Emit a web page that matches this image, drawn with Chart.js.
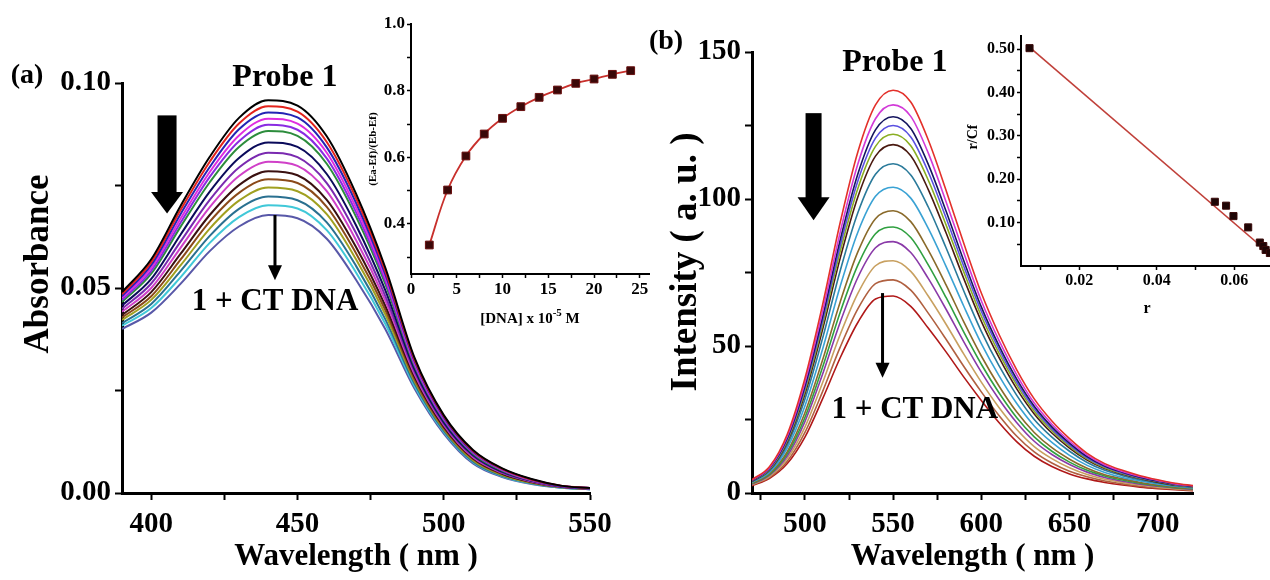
<!DOCTYPE html>
<html>
<head>
<meta charset="utf-8">
<script src="https://cdn.jsdelivr.net/npm/chart.js@4.4.0/dist/chart.umd.min.js"></script>
<style>
  html, body { margin: 0; padding: 0; background: #fff; overflow: hidden; }
  #fig { position: relative; width: 1270px; height: 580px; overflow: hidden; background: #fff; }
  canvas { position: absolute; }
</style>
</head>
<body>
<div id="fig">
  <canvas id="absMain" width="640" height="580" style="left:0;top:0"></canvas>
  <canvas id="flMain" width="635" height="580" style="left:635px;top:0"></canvas>
  <canvas id="absInset" width="330" height="330" style="left:330px;top:0"></canvas>
  <canvas id="flInset" width="340" height="322" style="left:940px;top:0"></canvas>
</div>
<script>
// ---------- panel (a): absorption titration ----------
var absWavelength = [390, 400, 410, 420, 430, 440, 450, 460, 470, 480, 490, 500, 510, 520, 530, 540, 550];
var absCurve1  = [0.0490, 0.0570, 0.0700, 0.0820, 0.0915, 0.0958, 0.0945, 0.0870, 0.0730, 0.0550, 0.0330, 0.0190, 0.0105, 0.0060, 0.0034, 0.0018, 0.0012];
var absCurve2  = [0.0485, 0.0563, 0.0690, 0.0808, 0.0901, 0.0943, 0.0930, 0.0856, 0.0719, 0.0542, 0.0326, 0.0188, 0.0103, 0.0059, 0.0033, 0.0018, 0.0012];
var absCurve3  = [0.0480, 0.0556, 0.0680, 0.0795, 0.0887, 0.0928, 0.0916, 0.0843, 0.0708, 0.0534, 0.0322, 0.0185, 0.0101, 0.0058, 0.0033, 0.0017, 0.0012];
var absCurve4  = [0.0476, 0.0549, 0.0669, 0.0783, 0.0872, 0.0913, 0.0901, 0.0830, 0.0696, 0.0526, 0.0318, 0.0183, 0.0100, 0.0057, 0.0032, 0.0017, 0.0012];
var absCurve5  = [0.0471, 0.0542, 0.0659, 0.0771, 0.0858, 0.0898, 0.0886, 0.0816, 0.0685, 0.0518, 0.0314, 0.0180, 0.0098, 0.0056, 0.0031, 0.0017, 0.0011];
var absCurve6  = [0.0466, 0.0535, 0.0649, 0.0758, 0.0844, 0.0883, 0.0871, 0.0803, 0.0674, 0.0510, 0.0310, 0.0178, 0.0096, 0.0054, 0.0031, 0.0017, 0.0011];
var absCurve7  = [0.0457, 0.0522, 0.0630, 0.0735, 0.0817, 0.0855, 0.0844, 0.0778, 0.0653, 0.0495, 0.0302, 0.0173, 0.0093, 0.0052, 0.0030, 0.0016, 0.0011];
var absCurve8  = [0.0449, 0.0511, 0.0613, 0.0715, 0.0794, 0.0830, 0.0819, 0.0756, 0.0634, 0.0481, 0.0296, 0.0169, 0.0090, 0.0050, 0.0029, 0.0016, 0.0011];
var absCurve9  = [0.0442, 0.0500, 0.0598, 0.0697, 0.0773, 0.0808, 0.0798, 0.0736, 0.0617, 0.0470, 0.0290, 0.0166, 0.0087, 0.0049, 0.0028, 0.0015, 0.0010];
var absCurve10 = [0.0434, 0.0490, 0.0583, 0.0678, 0.0751, 0.0785, 0.0775, 0.0715, 0.0600, 0.0457, 0.0284, 0.0162, 0.0085, 0.0047, 0.0027, 0.0015, 0.0010];
var absCurve11 = [0.0428, 0.0480, 0.0569, 0.0662, 0.0732, 0.0765, 0.0756, 0.0698, 0.0585, 0.0447, 0.0278, 0.0159, 0.0083, 0.0046, 0.0026, 0.0015, 0.0010];
var absCurve12 = [0.0422, 0.0471, 0.0555, 0.0645, 0.0713, 0.0745, 0.0736, 0.0680, 0.0570, 0.0436, 0.0273, 0.0156, 0.0080, 0.0044, 0.0025, 0.0014, 0.0010];
var absCurve13 = [0.0414, 0.0461, 0.0541, 0.0627, 0.0693, 0.0723, 0.0714, 0.0660, 0.0554, 0.0424, 0.0267, 0.0152, 0.0077, 0.0042, 0.0024, 0.0014, 0.0009];
var absCurve14 = [0.0408, 0.0451, 0.0526, 0.0610, 0.0673, 0.0702, 0.0694, 0.0641, 0.0538, 0.0413, 0.0261, 0.0149, 0.0075, 0.0041, 0.0023, 0.0013, 0.0009];
var absCurve15 = [0.0400, 0.0440, 0.0510, 0.0590, 0.0650, 0.0678, 0.0670, 0.0620, 0.0520, 0.0400, 0.0255, 0.0145, 0.0072, 0.0039, 0.0022, 0.0013, 0.0009];
var absCurves = [absCurve1, absCurve2, absCurve3, absCurve4, absCurve5, absCurve6, absCurve7, absCurve8,
                 absCurve9, absCurve10, absCurve11, absCurve12, absCurve13, absCurve14, absCurve15];
var absColors = ['#000000', '#e3231c', '#2323b4', '#e02ce0', '#8a2be2', '#2c8c3c', '#0a0a5a', '#7a2ab0',
                 '#d040c8', '#3a1010', '#8b4a1a', '#a0a020', '#2a7090', '#40c8d8', '#5858a8'];
var absXTicks = [400, 425, 450, 475, 500, 525, 550];
var absXLabels = [400, 450, 500, 550];
var absYTicks = [0, 0.025, 0.05, 0.075, 0.1];
var absYLabels = [0, 0.05, 0.1];

// inset (a): binding isotherm
var dnaConc = [2, 4, 6, 8, 10, 12, 14, 16, 18, 20, 22, 24];
var absRatio = [0.337, 0.502, 0.604, 0.670, 0.717, 0.752, 0.780, 0.802, 0.822, 0.835, 0.849, 0.860];
var insetAXTicks = [0, 2.5, 5, 7.5, 10, 12.5, 15, 17.5, 20, 22.5, 25];
var insetAXLabels = [0, 5, 10, 15, 20, 25];
var insetAYTicks = [0.3, 0.4, 0.5, 0.6, 0.7, 0.8, 0.9, 1.0];
var insetAYLabels = [0.4, 0.6, 0.8, 1.0];

// ---------- panel (b): emission titration ----------
var flWavelength = [470, 480, 490, 500, 510, 520, 530, 540, 550, 560, 570, 580, 590, 600, 610, 620, 630, 640, 650, 660, 670, 680, 690, 700, 710, 720];
var flCurve1  = [4.5, 9.0, 20.0, 39.0, 64.0, 92.0, 116.0, 132.0, 137.0, 133.0, 120.0, 103.0, 85.0, 68.0, 54.0, 42.0, 32.0, 24.5, 18.5, 13.5, 10.0, 7.7, 5.9, 4.5, 3.3, 2.5];
var flCurve2  = [4.4, 8.7, 19.3, 37.6, 61.7, 88.7, 111.9, 127.3, 132.0, 128.1, 115.5, 99.1, 81.8, 65.4, 51.9, 40.3, 30.6, 23.4, 17.6, 12.9, 9.5, 7.3, 5.6, 4.3, 3.1, 2.4];
var flCurve3  = [4.2, 8.5, 18.7, 36.4, 59.9, 86.1, 108.5, 123.5, 128.0, 124.0, 111.7, 95.9, 79.1, 63.3, 50.1, 38.8, 29.5, 22.5, 17.0, 12.4, 9.2, 7.1, 5.4, 4.1, 3.0, 2.3];
var flCurve4  = [4.2, 8.3, 18.3, 35.6, 58.5, 84.1, 106.1, 120.7, 125.0, 121.1, 109.1, 93.6, 77.2, 61.8, 48.9, 37.8, 28.7, 21.8, 16.4, 12.0, 8.9, 6.8, 5.2, 4.0, 2.9, 2.2];
var flCurve5  = [4.1, 8.1, 17.9, 34.7, 57.2, 82.2, 103.6, 117.9, 122.0, 118.1, 106.3, 91.2, 75.3, 60.2, 47.6, 36.8, 27.8, 21.2, 15.9, 11.6, 8.6, 6.6, 5.1, 3.9, 2.8, 2.1];
var flCurve6  = [4.0, 7.9, 17.4, 33.7, 55.6, 79.9, 100.7, 114.6, 118.5, 114.7, 103.1, 88.5, 73.0, 58.4, 46.1, 35.5, 26.9, 20.4, 15.3, 11.2, 8.3, 6.4, 4.9, 3.7, 2.7, 2.1];
var flCurve7  = [3.8, 7.6, 16.4, 31.9, 52.6, 75.6, 95.3, 108.4, 112.0, 108.2, 97.2, 83.4, 68.8, 55.0, 43.3, 33.3, 25.0, 19.0, 14.2, 10.4, 7.7, 5.9, 4.5, 3.4, 2.5, 1.9];
var flCurve8  = [3.6, 7.1, 15.3, 29.6, 48.9, 70.3, 88.7, 100.9, 104.0, 100.3, 89.9, 77.1, 63.6, 50.8, 39.9, 30.5, 22.8, 17.2, 12.8, 9.4, 7.0, 5.3, 4.1, 3.1, 2.3, 1.7];
var flCurve9  = [3.3, 6.7, 14.1, 27.3, 45.2, 65.0, 82.0, 93.3, 96.0, 92.3, 82.5, 70.8, 58.3, 46.6, 36.4, 27.6, 20.6, 15.4, 11.5, 8.4, 6.2, 4.8, 3.6, 2.7, 2.0, 1.5];
var flCurve10 = [3.2, 6.3, 13.4, 25.7, 42.8, 61.5, 77.5, 88.2, 90.5, 86.9, 77.5, 66.5, 54.8, 43.8, 34.1, 25.7, 19.1, 14.2, 10.5, 7.7, 5.8, 4.4, 3.3, 2.5, 1.8, 1.4];
var flCurve11 = [3.0, 6.1, 12.6, 24.3, 40.4, 58.1, 73.3, 83.4, 85.5, 81.8, 72.9, 62.5, 51.5, 41.1, 31.9, 24.0, 17.6, 13.1, 9.7, 7.1, 5.3, 4.0, 3.0, 2.3, 1.7, 1.2];
var flCurve12 = [2.8, 5.7, 11.7, 22.4, 37.5, 53.9, 67.9, 77.3, 79.0, 75.4, 66.9, 57.4, 47.3, 37.7, 29.1, 21.7, 15.8, 11.7, 8.6, 6.3, 4.7, 3.6, 2.7, 2.0, 1.5, 1.1];
var flCurve13 = [2.7, 5.3, 10.8, 20.6, 34.5, 49.6, 62.6, 71.2, 72.5, 69.0, 61.1, 52.3, 43.1, 34.4, 26.4, 19.4, 14.0, 10.2, 7.4, 5.5, 4.1, 3.1, 2.3, 1.7, 1.3, 0.9];
var flCurve14 = [2.5, 5.0, 10.0, 19.0, 32.0, 46.0, 58.0, 66.0, 67.0, 63.5, 56.0, 48.0, 39.5, 31.5, 24.0, 17.5, 12.5, 9.0, 6.5, 4.8, 3.6, 2.7, 2.0, 1.5, 1.1, 0.8];
var flCurves = [flCurve1, flCurve2, flCurve3, flCurve4, flCurve5, flCurve6, flCurve7,
                flCurve8, flCurve9, flCurve10, flCurve11, flCurve12, flCurve13, flCurve14];
var flColors = ['#e3302a', '#d23ad8', '#14145e', '#5a50e0', '#8aae22', '#4a1a10', '#2a7a9a',
                '#3aa2d4', '#8a6a2a', '#30a040', '#8a3aa8', '#c8a060', '#b06040', '#b01818'];
var flXTicks = [475, 500, 525, 550, 575, 600, 625, 650, 675, 700];
var flXLabels = [500, 550, 600, 650, 700];
var flYTicks = [0, 25, 50, 75, 100, 125, 150];
var flYLabels = [0, 50, 100, 150];

// inset (b): Scatchard plot
var scatR   = [0.0072, 0.0550, 0.0579, 0.0598, 0.0636, 0.0666, 0.0675, 0.0681, 0.0692];
var scatRCf = [0.502, 0.148, 0.139, 0.115, 0.089, 0.054, 0.046, 0.037, 0.030];
var fitR    = [0.0068, 0.0700];
var fitRCf  = [0.507, 0.022];
var insetBXTicks = [0.01, 0.02, 0.03, 0.04, 0.05, 0.06, 0.07];
var insetBXLabels = [0.02, 0.04, 0.06];
var insetBYTicks = [0.05, 0.1, 0.15, 0.2, 0.25, 0.3, 0.35, 0.4, 0.45, 0.5];
var insetBYLabels = [0.1, 0.2, 0.3, 0.4, 0.5];

// ---------- helpers ----------
var SERIF = "'Liberation Serif', 'Times New Roman', serif";
Chart.defaults.font.family = SERIF;
Chart.defaults.font.weight = 'bold';
Chart.defaults.color = '#000';
Chart.defaults.animation = false;
Chart.defaults.responsive = false;

function pts(xs, ys) {
  return xs.map(function (x, i) { return { x: x, y: ys[i] }; });
}

function axis(o) {
  return {
    type: 'linear',
    min: o.min,
    max: o.max,
    afterBuildTicks: function (s) { s.ticks = o.ticks.map(function (v) { return { value: v }; }); },
    afterFit: function (s) {
      if (o.width) s.width = o.width;
      if (o.height) s.height = o.height;
    },
    ticks: {
      autoSkip: false,
      maxRotation: 0,
      padding: o.pad,
      font: { size: o.size, weight: 'bold' },
      color: '#000',
      callback: function (v) { return o.labels.indexOf(v) >= 0 ? o.fmt(v) : ''; }
    },
    grid: { drawOnChartArea: false, drawTicks: true, tickLength: o.tickLen, tickWidth: o.tickW, color: '#000' },
    border: { display: true, color: '#000', width: o.lineW },
    title: {
      display: !!o.title,
      text: o.title,
      color: '#000',
      font: { size: o.titleSize, weight: 'bold' },
      padding: { top: 4, bottom: 4 }
    }
  };
}

function bigArrow(ctx, x, yTop, yBase, yTip, shaftW, headW) {
  ctx.fillStyle = '#000';
  ctx.fillRect(x - shaftW / 2, yTop, shaftW, yBase - yTop + 1);
  ctx.beginPath();
  ctx.moveTo(x - headW / 2, yBase);
  ctx.lineTo(x + headW / 2, yBase);
  ctx.lineTo(x, yTip);
  ctx.closePath();
  ctx.fill();
}

function thinArrow(ctx, x, yTop, yTip) {
  ctx.strokeStyle = '#000';
  ctx.fillStyle = '#000';
  ctx.lineWidth = 3;
  ctx.beginPath();
  ctx.moveTo(x, yTop);
  ctx.lineTo(x, yTip - 12);
  ctx.stroke();
  ctx.beginPath();
  ctx.moveTo(x - 7, yTip - 15);
  ctx.lineTo(x + 7, yTip - 15);
  ctx.lineTo(x, yTip);
  ctx.closePath();
  ctx.fill();
}

function text(ctx, s, x, y, size, align) {
  ctx.fillStyle = '#000';
  ctx.font = 'bold ' + size + 'px ' + SERIF;
  ctx.textAlign = align || 'center';
  ctx.textBaseline = 'middle';
  ctx.fillText(s, x, y);
}

function vtext(ctx, s, x, y, size) {
  ctx.save();
  ctx.translate(x, y);
  ctx.rotate(-Math.PI / 2);
  text(ctx, s, 0, 0, size);
  ctx.restore();
}

// annotations given in data units of the panel
function notes(n) {
  return {
    id: 'notes',
    afterDraw: function (chart) {
      var ctx = chart.ctx, sx = chart.scales.x, sy = chart.scales.y;
      ctx.save();
      var a = n.big;
      bigArrow(ctx, sx.getPixelForValue(a.x), sy.getPixelForValue(a.top), sy.getPixelForValue(a.base),
               sy.getPixelForValue(a.tip), a.shaft, a.head);
      var t = n.thin;
      thinArrow(ctx, sx.getPixelForValue(t.x), sy.getPixelForValue(t.top), sy.getPixelForValue(t.tip));
      text(ctx, 'Probe 1', sx.getPixelForValue(n.probe[0]), sy.getPixelForValue(n.probe[1]), 32);
      text(ctx, '1 + CT DNA', sx.getPixelForValue(n.dna[0]), sy.getPixelForValue(n.dna[1]), 31);
      text(ctx, n.tag, n.tagPos[0], n.tagPos[1], 28);
      vtext(ctx, n.yTitle, n.yTitlePos[0], n.yTitlePos[1], n.yTitleSize);
      ctx.restore();
    }
  };
}

// ---------- panel (a) main ----------
new Chart(document.getElementById('absMain'), {
  type: 'line',
  data: {
    datasets: absCurves.map(function (c, i) {
      return { data: pts(absWavelength, c), borderColor: absColors[i], borderWidth: 2, pointRadius: 0,
               cubicInterpolationMode: 'monotone', fill: false };
    })
  },
  options: {
    layout: { padding: { left: 16, top: 83, right: 50, bottom: 0 } },
    plugins: { legend: { display: false }, tooltip: { enabled: false } },
    scales: {
      x: axis({ min: 390, max: 550, ticks: absXTicks, labels: absXLabels, fmt: String, size: 29, pad: 7,
                tickLen: 7, tickW: 2, lineW: 3, height: 87, title: 'Wavelength ( nm )', titleSize: 31 }),
      y: axis({ min: 0, max: 0.1, ticks: absYTicks, labels: absYLabels, fmt: function (v) { return v.toFixed(2); },
                size: 29, pad: 4, tickLen: 7, tickW: 2, lineW: 3, width: 106 })
    }
  },
  plugins: [notes({
    big: { x: 405.4, top: 0.0921, base: 0.0734, tip: 0.0682, shaft: 19, head: 32 },
    thin: { x: 442.3, top: 0.0678, tip: 0.0519 },
    probe: [445.7, 0.1014],
    dna: [442.3, 0.0466],
    tag: '(a)', tagPos: [27, 76],
    yTitle: 'Absorbance', yTitlePos: [39, 264], yTitleSize: 35
  })]
});

// ---------- panel (b) main ----------
new Chart(document.getElementById('flMain'), {
  type: 'line',
  data: {
    datasets: flCurves.map(function (c, i) {
      return { data: pts(flWavelength, c), borderColor: flColors[i], borderWidth: 1.6, pointRadius: 0,
               cubicInterpolationMode: 'monotone', fill: false };
    })
  },
  options: {
    layout: { padding: { left: 29, top: 52, right: 77, bottom: 0 } },
    plugins: { legend: { display: false }, tooltip: { enabled: false } },
    scales: {
      x: axis({ min: 470, max: 720, ticks: flXTicks, labels: flXLabels, fmt: String, size: 29, pad: 7,
                tickLen: 7, tickW: 2, lineW: 3, height: 87, title: 'Wavelength ( nm )', titleSize: 31 }),
      y: axis({ min: 0, max: 150, ticks: flYTicks, labels: flYLabels, fmt: String,
                size: 29, pad: 4, tickLen: 7, tickW: 2, lineW: 3, width: 88 })
    }
  },
  plugins: [notes({
    big: { x: 504.9, top: 129.2, base: 100.6, tip: 92.8, shaft: 16, head: 32 },
    thin: { x: 544, top: 68, tip: 39.2 },
    probe: [551, 146.5],
    dna: [562.3, 28.3],
    tag: '(b)', tagPos: [31, 42],
    yTitle: 'Intensity ( a. u. )', yTitlePos: [51, 262], yTitleSize: 37
  })]
});

// ---------- inset (a) ----------
new Chart(document.getElementById('absInset'), {
  type: 'line',
  data: {
    datasets: [{
      data: pts(dnaConc, absRatio), borderColor: '#c8302c', borderWidth: 1.8, tension: 0.4,
      pointStyle: 'rect', pointRadius: 5.5, pointBackgroundColor: '#3a0808', pointBorderColor: '#6a1010', pointBorderWidth: 1
    }]
  },
  options: {
    layout: { padding: { left: 0, top: 24, right: 11, bottom: 0 } },
    plugins: { legend: { display: false }, tooltip: { enabled: false } },
    scales: {
      x: axis({ min: 0, max: 26, ticks: insetAXTicks, labels: insetAXLabels, fmt: String, size: 17, pad: 1,
                tickLen: 4, tickW: 1.5, lineW: 2, height: 56 }),
      y: axis({ min: 0.25, max: 1.0, ticks: insetAYTicks, labels: insetAYLabels, fmt: function (v) { return v.toFixed(1); },
                size: 17, pad: 2, tickLen: 4, tickW: 1.5, lineW: 2, width: 81 })
    }
  },
  plugins: [{
    id: 'insetATitles',
    afterDraw: function (chart) {
      var ctx = chart.ctx, ca = chart.chartArea;
      ctx.save();
      // x title with superscript exponent
      var cx = (ca.left + ca.right) / 2, cy = ca.bottom + 45;
      var p1 = '[DNA] x 10', p2 = '-5', p3 = ' M';
      ctx.font = 'bold 11px ' + SERIF;
      var w2 = ctx.measureText(p2).width;
      ctx.font = 'bold 15px ' + SERIF;
      var w1 = ctx.measureText(p1).width, w3 = ctx.measureText(p3).width;
      var x0 = cx - (w1 + w2 + w3) / 2;
      ctx.fillStyle = '#000';
      ctx.textBaseline = 'middle';
      ctx.textAlign = 'left';
      ctx.fillText(p1, x0, cy);
      ctx.fillText(p3, x0 + w1 + w2, cy);
      ctx.font = 'bold 11px ' + SERIF;
      ctx.fillText(p2, x0 + w1, cy - 6);
      // y title
      vtext(ctx, '(Ea-Ef)/(Eb-Ef)', ca.left - 38, (ca.top + ca.bottom) / 2, 11);
      ctx.restore();
    }
  }]
});

// ---------- inset (b) ----------
new Chart(document.getElementById('flInset'), {
  type: 'line',
  data: {
    datasets: [
      { data: pts(scatR, scatRCf), showLine: false, pointStyle: 'rect', pointRadius: 5,
        pointBackgroundColor: '#1e0606', pointBorderColor: '#3a0a0a', pointBorderWidth: 1, borderColor: '#1e0606' },
      { data: pts(fitR, fitRCf), borderColor: '#c0403a', borderWidth: 1.6, pointRadius: 0, fill: false }
    ]
  },
  options: {
    layout: { padding: { left: 0, top: 36, right: 7, bottom: 0 } },
    plugins: { legend: { display: false }, tooltip: { enabled: false } },
    scales: {
      x: axis({ min: 0.005, max: 0.07, ticks: insetBXTicks, labels: insetBXLabels, fmt: function (v) { return v.toFixed(2); },
                size: 16, pad: 1, tickLen: 4, tickW: 1.5, lineW: 2, height: 56, title: 'r', titleSize: 16 }),
      y: axis({ min: 0, max: 0.53, ticks: insetBYTicks, labels: insetBYLabels, fmt: function (v) { return v.toFixed(2); },
                size: 16, pad: 2, tickLen: 4, tickW: 1.5, lineW: 2, width: 81 })
    }
  },
  plugins: [{
    id: 'insetBTitle',
    afterDraw: function (chart) {
      vtext(chart.ctx, 'r/Cf', 33, 137, 14);
    }
  }]
});
</script>
</body>
</html>
